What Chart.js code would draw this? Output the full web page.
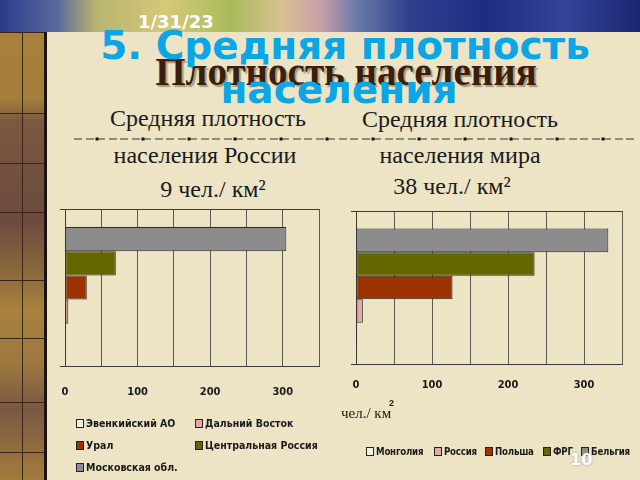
<!DOCTYPE html>
<html>
<head>
<meta charset="utf-8">
<script src="https://cdn.jsdelivr.net/npm/chart.js@4"></script>
<style>
body { margin:0; width:640px; height:480px; overflow:hidden; position:relative; background:#ece4c5; }
.t { position:absolute; white-space:nowrap; line-height:1; }
.sub { width:300px; text-align:center; font-family:"Liberation Serif", serif; font-size:24px; color:#1a1a1a; }
#banner { position:absolute; left:0; top:0; width:640px; height:32px;
  background: linear-gradient(90deg, #2b3b8c 0%, #5a6a9c 9%, #b8b470 15%, #d6c878 26%, #a8bc5c 36%, #d8c090 44%, #c8a0a8 50%, #6878a8 56%, #30408e 64%, #1e2c82 76%, #34449a 88%, #1a2672 100%); }
#side { position:absolute; left:0; top:32px; width:44px; height:448px; border-right:3px solid #1c1410;
  background: linear-gradient(180deg, #a8823c 0%, #a47e3a 15%, #7a5840 20%, #6c4a3e 42%, #86643c 52%, #a8823c 62%, #9e7840 74%, #7a5842 84%, #a27c3c 100%); }
#side div { position:absolute; left:0; width:44px; height:1px; background:#3a2418; }
#side .v { left:22px; top:0; width:1px; height:448px; }
canvas { position:absolute; }
#ruChart { left:40px; top:190px; }
#worldChart { left:330px; top:190px; }
.leg { position:absolute; font-family:"DejaVu Sans Condensed", sans-serif; font-weight:bold; font-size:10.5px; color:#1a1a1a; white-space:nowrap; line-height:12px; }
#worldLegend .leg { font-size:9.6px; letter-spacing:-0.2px; }
.leg i { display:inline-block; width:6px; height:7px; border:1px solid #222; margin-right:2px; vertical-align:-1px; }
</style>
</head>
<body>
<div id="banner"></div>
<div id="side">
  <div class="v"></div>
  <div style="top:0"></div><div style="top:81px"></div><div style="top:131px"></div><div style="top:180px"></div>
  <div style="top:248px"></div><div style="top:306px"></div><div style="top:370px"></div><div style="top:420px"></div>
</div>

<div class="t" style="left:138px;top:11px;font:bold 18px 'DejaVu Sans';color:#fff">1/31/23</div>
<div class="t" style="left:46px;width:600px;text-align:center;top:49px;font:bold 39px 'Liberation Serif';color:#3a1e0e;text-shadow:2px 2px 1px rgba(60,40,20,0.4)">Плотность населения</div>
<div class="t" style="left:45px;width:600px;text-align:center;top:23px;font:bold 39px 'DejaVu Sans';color:#0aa6e6">5. Средняя плотность</div>
<div class="t" style="left:39px;width:600px;text-align:center;top:67px;font:bold 39px 'DejaVu Sans';color:#0aa6e6">населения</div>

<div class="t sub" style="left:58px;top:106px">Средняя плотность</div>
<div class="t sub" style="left:55px;top:143px">населения России</div>
<div class="t sub" style="left:63px;top:177px">9 чел./ км²</div>
<div class="t sub" style="left:310px;top:107px">Средняя плотность</div>
<div class="t sub" style="left:310px;top:143px">населения мира</div>
<div class="t sub" style="left:302px;top:174px">38 чел./ км²</div>

<svg style="position:absolute;left:74px;top:134px" width="560" height="10">
  <defs>
    <pattern id="dash" patternUnits="userSpaceOnUse" width="46" height="10">
      <line x1="0" y1="5" x2="8" y2="5" stroke="#333" stroke-width="1"/>
      <line x1="12" y1="5" x2="20" y2="5" stroke="#333" stroke-width="1"/>
      <line x1="23" y1="5" x2="31" y2="5" stroke="#333" stroke-width="1"/>
      <line x1="35" y1="5" x2="43" y2="5" stroke="#333" stroke-width="1"/>
      <rect x="21.5" y="3.5" width="3" height="3" fill="#111"/>
    </pattern>
  </defs>
  <rect x="0" y="0" width="560" height="10" fill="url(#dash)"/>
</svg>

<canvas id="ruChart" width="300" height="220"></canvas>
<canvas id="worldChart" width="310" height="220"></canvas>

<div class="t" style="left:341px;top:405px;font:15px 'Liberation Serif';color:#1a1a1a">чел./ км</div>
<div class="t" style="left:389px;top:398px;font:bold 9px 'Liberation Sans';color:#1a1a1a">2</div>

<div id="ruLegend"></div>
<div id="worldLegend"></div>

<div class="t" style="left:570px;top:450px;font:bold 16px 'DejaVu Sans';color:#fff;text-shadow:0 0 3px #aaa">10</div>

<script>
const ruRegions = ['Эвенкийский АО', 'Дальний Восток', 'Урал', 'Центральная Россия', 'Московская обл.'];
const ruDensity = [0.5, 4.5, 30, 70, 305];
const worldCountries = ['Монголия', 'Россия', 'Польша', 'ФРГ', 'Бельгия'];
const worldDensity = [1.5, 9, 127, 235, 332];
const seriesColors = ['#f4f0e2', '#e2aaa2', '#9c3300', '#666600', '#8c8c8c'];
const tickLabels = [0, 100, 200, 300];
const axisMax = 350;
const axisStep = 50;

function makeChart(canvasId, names, values, padding, labelPad) {
    // Excel draws the first series at the bottom of the group, so feed them reversed
    const datasets = names.map((name, i) => ({
        label: name,
        data: [values[i]],
        backgroundColor: seriesColors[i],
        borderColor: '#2a2a2a',
        borderWidth: 1,
        borderSkipped: false,
        categoryPercentage: 0.77,
        barPercentage: 1.0
    })).reverse();

    return new Chart(document.getElementById(canvasId), {
        type: 'bar',
        data: { labels: [''], datasets: datasets },
        options: {
            indexAxis: 'y',
            responsive: false,
            animation: false,
            layout: { padding: padding },
            plugins: { legend: { display: false }, tooltip: { enabled: false } },
            scales: {
                x: {
                    min: 0,
                    max: axisMax,
                    ticks: {
                        stepSize: axisStep,
                        padding: labelPad,
                        maxRotation: 0,
                        color: '#1a1a1a',
                        font: { family: 'DejaVu Sans Condensed', weight: 'bold', size: 11 },
                        callback: v => tickLabels.includes(v) ? v : ''
                    },
                    grid: { color: '#5a5a50', drawTicks: false },
                    border: { color: '#3a3a3a' },
                    afterFit: s => { s.height = 40; }
                },
                y: {
                    offset: true,
                    ticks: { display: false },
                    grid: { offset: true, color: '#3a3a3a', tickLength: 5 },
                    border: { color: '#3a3a3a' }
                }
            }
        }
    });
}

function makeLegend(id, names, spots) {
    const box = document.getElementById(id);
    names.forEach((name, i) => {
        const el = document.createElement('div');
        el.className = 'leg';
        el.style.left = spots[i][0] + 'px';
        el.style.top = spots[i][1] + 'px';
        el.innerHTML = `<i style="background:${seriesColors[i]}"></i>${name}`;
        box.appendChild(el);
    });
}

makeChart('ruChart', ruRegions, ruDensity, { left: 20, right: 21, top: 19, bottom: 4 }, 20);
makeChart('worldChart', worldCountries, worldDensity, { left: 21, right: 18, top: 21, bottom: 6 }, 15);

makeLegend('ruLegend', ruRegions, [[76, 417], [195, 417], [76, 439], [195, 439], [76, 461]]);
makeLegend('worldLegend', worldCountries, [[366, 446], [434, 446], [485, 446], [543, 446], [581, 446]]);
</script>
</body>
</html>
